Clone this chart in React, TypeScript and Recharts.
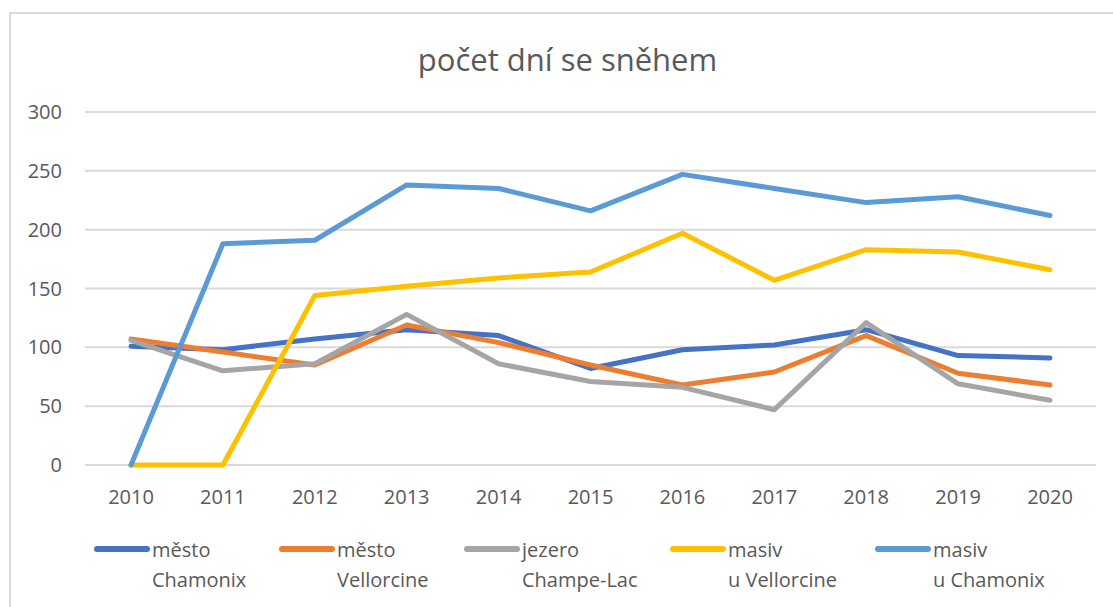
import { LineChart, Line, XAxis, YAxis, CartesianGrid } from "recharts";

const FONT = "'Open Sans', 'Noto Sans', sans-serif";
const TEXT = "#595959";
const GRID = "#d9d9d9";

const years = ["2010", "2011", "2012", "2013", "2014", "2015", "2016", "2017", "2018", "2019", "2020"];
const yTicks = [0, 50, 100, 150, 200, 250, 300];

const mestoChamonix = [101, 98, 107, 115, 110, 82, 98, 102, 115, 93, 91];
const mestoVellorcine = [107, 96, 85, 119, 104, 85, 68, 79, 110, 78, 68];
const jezeroChampeLac = [106, 80, 86, 128, 86, 71, 66, 47, 121, 69, 55];
const masivVellorcine = [0, 0, 144, 152, 159, 164, 197, 157, 183, 181, 166];
const masivChamonix = [0, 188, 191, 238, 235, 216, 247, 235, 223, 228, 212];

const series = [
  { key: "mc", line1: "město", line2: "Chamonix", color: "#4472C4", values: mestoChamonix, x: 94 },
  { key: "mv", line1: "město", line2: "Vellorcine", color: "#ED7D31", values: mestoVellorcine, x: 279 },
  { key: "jc", line1: "jezero", line2: "Champe-Lac", color: "#A5A5A5", values: jezeroChampeLac, x: 464 },
  { key: "uv", line1: "masiv", line2: "u Vellorcine", color: "#FFC000", values: masivVellorcine, x: 670 },
  { key: "uc", line1: "masiv", line2: "u Chamonix", color: "#5B9BD5", values: masivChamonix, x: 875 },
];

const data = years.map((y, i) => {
  const row: Record<string, string | number> = { year: y };
  series.forEach((s) => {
    row[s.key] = s.values[i];
  });
  return row;
});

export default function App() {
  return (
    <div style={{ position: "absolute", left: 0, top: 0, width: 1113, height: 607, background: "#fff", fontFamily: FONT, overflow: "hidden" }}>
      {/* chart frame, runs off right/bottom edge */}
      <div style={{ position: "absolute", left: 9, top: 12, width: 1120, height: 620, border: "2px solid #d9d9d9", boxSizing: "border-box" }} />

      <div style={{ position: "absolute", left: 0, top: 41, width: 1135, textAlign: "center", fontSize: 31, color: TEXT, lineHeight: "36px" }}>
        počet dní se sněhem
      </div>

      <div style={{ position: "absolute", left: 0, top: 0 }}>
        <LineChart width={1113} height={607} data={data} margin={{ top: 112, right: 17, bottom: 112, left: 25 }}>
          <CartesianGrid vertical={false} stroke={GRID} strokeWidth={2} />
          <XAxis
            dataKey="year"
            height={30}
            axisLine={false}
            tickLine={false}
            tickSize={0}
            tickMargin={25}
            padding={{ left: 46, right: 46 }}
            tick={{ fill: TEXT, fontSize: 20, fontFamily: FONT }}
            interval={0}
          />
          <YAxis
            width={60}
            domain={[0, 300]}
            ticks={yTicks}
            axisLine={false}
            tickLine={false}
            tickSize={0}
            tickMargin={23}
            tick={{ fill: TEXT, fontSize: 20, fontFamily: FONT }}
          />
          {series.map((s) => (
            <Line
              key={s.key}
              dataKey={s.key}
              stroke={s.color}
              strokeWidth={5}
              strokeLinecap="round"
              strokeLinejoin="round"
              dot={false}
              activeDot={false}
              type="linear"
              isAnimationActive={false}
            />
          ))}
        </LineChart>
      </div>

      {/* legend */}
      {series.map((s) => (
        <div key={s.key} style={{ position: "absolute", left: s.x, top: 535, color: TEXT, fontSize: 20 }}>
          <div style={{ position: "absolute", left: 0, top: 11, width: 56, height: 6, borderRadius: 3, background: s.color }} />
          <div style={{ position: "absolute", left: 58, top: 0, lineHeight: "30px", whiteSpace: "nowrap" }}>
            {s.line1}
            <br />
            {s.line2}
          </div>
        </div>
      ))}
    </div>
  );
}
